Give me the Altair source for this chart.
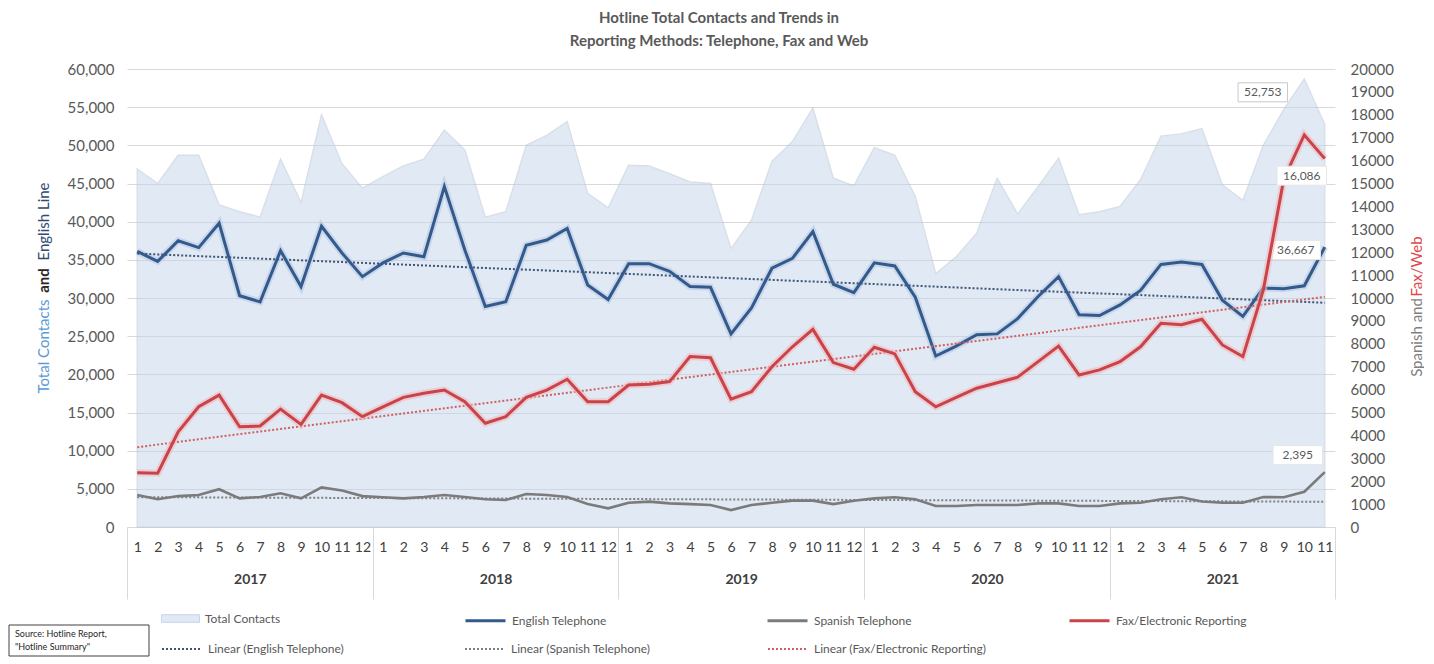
import altair as alt
import pandas as pd

# ---------------- data ----------------
years = [2017] * 12 + [2018] * 12 + [2019] * 12 + [2020] * 12 + [2021] * 11
months = list(range(1, 13)) * 4 + list(range(1, 12))

total_contacts = [
    46900, 45000, 48700, 48700, 42200, 41300, 40600, 48200, 42500, 54000, 47600, 44400,
    45900, 47300, 48200, 52000, 49400, 40600, 41300, 50000, 51300, 53100, 43700, 41800,
    47400, 47300, 46300, 45200, 45000, 36500, 40200, 47900, 50500, 54900, 45700, 44700,
    49700, 48700, 43300, 33200, 35400, 38500, 45700, 41000, 44600, 48300, 40900, 41300,
    42000, 45500, 51200, 51500, 52200, 44800, 42800, 50000, 54700, 58700, 52753,
]
english_tel = [
    36100, 34800, 37500, 36600, 39800, 30300, 29500, 36200, 31500, 39400, 35900, 32800,
    34600, 35900, 35400, 44600, 36300, 28900, 29500, 36900, 37600, 39100, 31700, 29800,
    34500, 34500, 33500, 31500, 31400, 25300, 28700, 33900, 35200, 38700, 31800, 30700,
    34600, 34200, 30100, 22400, 23700, 25200, 25300, 27300, 30200, 32800, 27800, 27700,
    29100, 31000, 34400, 34700, 34400, 29700, 27600, 31300, 31200, 31600, 36667,
]
spanish_tel = [
    1400, 1210, 1350, 1400, 1650, 1250, 1310, 1470, 1250, 1730, 1590, 1350,
    1300, 1250, 1310, 1400, 1310, 1210, 1180, 1440, 1400, 1310, 1000, 815,
    1060, 1110, 1030, 1000, 960, 740, 960, 1060, 1150, 1150, 1000, 1150,
    1250, 1300, 1210, 920, 920, 960, 960, 960, 1030, 1030, 920, 920,
    1030, 1060, 1210, 1300, 1110, 1060, 1060, 1310, 1300, 1540, 2395,
]
fax_web = [
    2370, 2350, 4160, 5250, 5760, 4380, 4410, 5150, 4480, 5760, 5430, 4820,
    5250, 5660, 5840, 5980, 5470, 4530, 4820, 5660, 5980, 6450, 5470, 5470,
    6200, 6230, 6350, 7440, 7390, 5580, 5910, 7000, 7870, 8630, 7180, 6890,
    7850, 7560, 5910, 5250, 5660, 6060, 6300, 6540, 7220, 7900, 6640, 6860,
    7220, 7870, 8900, 8830, 9070, 7950, 7440, 10350, 15200, 17120, 16086,
]

series_names = ["English Telephone", "Spanish Telephone", "Fax/Electronic Reporting"]
trend_names = ["Linear (English Telephone)", "Linear (Spanish Telephone)",
               "Linear (Fax/Electronic Reporting)"]
area_name = "Total Contacts"
title_lines = ["Hotline Total Contacts and Trends in",
               "Reporting Methods: Telephone, Fax and Web"]
source_lines = ["Source: Hotline Report,", "\"Hotline Summary\""]
left_ticks = list(range(0, 60001, 5000))
right_ticks = list(range(0, 20001, 1000))

# ---------------- derived tables ----------------
n = len(total_contacts)
idx = list(range(n))
year_names = sorted(set(years))
year_centers = [sum(i for i in idx if years[i] == y) / years.count(y) for y in year_names]
boundaries = [-0.5] + [max(i for i in idx if years[i] == y) + 0.5 for y in year_names]

df = pd.DataFrame({
    "i": idx, "year": years, "month": months,
    "total": total_contacts, "english": english_tel,
    "spanish": spanish_tel, "fax": fax_web,
})
year_df = pd.DataFrame({"c": year_centers, "year": [str(y) for y in year_names]})
sep_df = pd.DataFrame({"b": boundaries})
src_df = pd.DataFrame({"line": source_lines, "k": list(range(len(source_lines)))})

# ---------------- style ----------------
FONT = "Lato"
W, H = 1208, 458
C_ENG, C_SPA, C_FAX = "#34598b", "#7b7b7b", "#c8434a"
C_TENG, C_TSPA, C_TFAX = "#3e5675", "#808080", "#d0605f"
C_AREA, C_AREA_LINE = "#c4d4ea", "#b3c1d3"
TXT = "#595959"

xs = alt.Scale(domain=[-0.5, n - 0.5], nice=False, zero=False)
ys_left = alt.Scale(domain=[0, 60000], nice=False)
ys_right = alt.Scale(domain=[0, 20000], nice=False)

month_axis = alt.Axis(
    orient="bottom", values=idx, labelExpr=f"{months}[datum.value]",
    labelOverlap=False, labelFlush=False, ticks=False, grid=False,
    domain=True, domainColor="#d9d9d9", labelPadding=13, labelFontSize=14,
    labelFont=FONT, labelColor="#404040", title=None,
)
year_axis = alt.Axis(
    orient="bottom", values=year_centers,
    labelExpr=f"{[str(y) for y in year_names]}[indexof({year_centers}, datum.value)]",
    labelOverlap=False, ticks=False, grid=False, domain=False, labelPadding=45,
    labelFontSize=14, labelFont=FONT, labelColor="#404040", labelFontWeight="bold",
    title=None,
)
sep_axis = alt.Axis(
    orient="bottom", values=boundaries, labels=False, ticks=True, tickSize=72,
    tickColor="#d9d9d9", tickWidth=1, grid=False, domain=False, title=None,
)


def title_piece(text, color, weight, orient, tx, ty):
    return alt.Axis(
        orient=orient, title=text, titleColor=color, titleFontWeight=weight,
        titleFont=FONT, titleFontSize=15, titleAngle=270, titleX=tx, titleY=ty,
        titleAlign="center", titleBaseline="middle", labels=False, ticks=False,
        domain=False, grid=False,
    )


left_axis = alt.Axis(
    orient="left", values=left_ticks, labelExpr="format(datum.value, ',')",
    grid=True, gridColor="#d9d9d9",
    domain=False, ticks=False, labelPadding=13, labelFontSize=15, labelFont=FONT,
    labelColor=TXT, title=area_name, titleColor="#5b9bd5", titleFontWeight="normal",
    titleFont=FONT, titleFontSize=15, titleAngle=270, titleX=-84, titleY=277,
    titleAlign="center", titleBaseline="middle",
)
right_axis = alt.Axis(
    orient="right", values=right_ticks, labelExpr="format(datum.value, 'd')",
    grid=False, domain=False,
    ticks=False, labelPadding=15, labelFontSize=15, labelFont=FONT, labelColor=TXT,
    title="Spanish and", titleColor="#7f7f7f", titleFontWeight="normal", titleFont=FONT,
    titleFontSize=15, titleAngle=270, titleX=81, titleY=268, titleAlign="center",
    titleBaseline="middle",
)

legend_common = dict(
    orient="none", title=None, labelFont=FONT, labelFontSize=12, labelColor=TXT,
    padding=0, labelOffset=5, labelLimit=400,
)
fill_legend = alt.Legend(
    legendX=34, legendY=530, symbolType="M-1,-0.2L1,-0.2L1,0.2L-1,0.2Z", symbolSize=1444,
    symbolStrokeColor="#8faadc", symbolStrokeWidth=1, **legend_common,
)
color_legend = alt.Legend(
    legendX=337, legendY=530, direction="horizontal", columns=3, gridAlign="all",
    columnPadding=118, symbolType="stroke", symbolSize=1600, symbolStrokeWidth=3,
    **legend_common,
)
stroke_legend = alt.Legend(
    legendX=34, legendY=559, direction="horizontal", columns=3, gridAlign="all",
    columnPadding=80, symbolType="stroke", symbolSize=1600, symbolStrokeWidth=2,
    symbolDash=[2, 2], **legend_common,
)

fill_enc = alt.Fill("s:N", scale=alt.Scale(domain=[area_name], range=[C_AREA]),
                    legend=fill_legend)
color_scale = alt.Scale(domain=series_names, range=[C_ENG, C_SPA, C_FAX])
stroke_scale = alt.Scale(domain=trend_names, range=[C_TENG, C_TSPA, C_TFAX])

base = alt.Chart(df)
x_main = alt.X("i:Q", scale=xs, axis=month_axis)
x_none = alt.X("i:Q", scale=xs, axis=None)


def yl(field):
    return alt.Y(f"{field}:Q", scale=ys_left, axis=left_axis)


def yr(field):
    return alt.Y(f"{field}:Q", scale=ys_right, axis=right_axis)


# ---------------- left group (Total Contacts + English) ----------------
area = base.transform_calculate(s=f"'{area_name}'").mark_area(
    opacity=0.5, stroke=C_AREA_LINE, strokeWidth=1.4, strokeOpacity=1,
).encode(x=x_main, y=yl("total"), fill=fill_enc)

eng_glow = base.mark_line(color="#b9cce6", strokeWidth=7, opacity=0.6).encode(
    x=x_main, y=yl("english"))
eng_line = base.transform_calculate(s=f"'{series_names[0]}'").mark_line(
    strokeWidth=3).encode(
    x=x_main, y=yl("english"),
    color=alt.Color("s:N", scale=color_scale, legend=color_legend))
eng_trend = base.transform_regression("i", "english").transform_calculate(
    s=f"'{trend_names[0]}'").mark_line(strokeWidth=2, strokeDash=[2, 2]).encode(
    x=x_main, y=yl("english"),
    stroke=alt.Stroke("s:N", scale=stroke_scale, legend=stroke_legend))

last = f"datum.i == {n - 1}"
BOX = "M-1.3,-0.5L1.3,-0.5L1.3,0.5L-1.3,0.5Z"


def label(field, yfn, dx, dy, border):
    xe = x_main if yfn is yl else x_none
    box = base.transform_filter(last).mark_point(
        shape=BOX, size=1444, filled=True, fill="white", stroke=border,
        strokeWidth=1, opacity=1, xOffset=dx, yOffset=dy,
    ).encode(x=xe, y=yfn(field))
    txt = base.transform_filter(last).mark_text(
        dx=dx, dy=dy, font=FONT, fontSize=12, color=TXT,
    ).encode(x=xe, y=yfn(field), text=alt.Text(f"{field}:Q", format=","))
    return [box, txt]


left_group = alt.layer(
    area, eng_glow, eng_trend, eng_line,
    *label("total", yl, -62, -32, "#c8c8c8"),
    *label("english", yl, -29, 3, "#e6e6e6"),
)

# ---------------- right group (Spanish + Fax) ----------------
fax_glow = base.mark_line(color="#f1b9ba", strokeWidth=7, opacity=0.6).encode(
    x=x_none, y=yr("fax"))
spa_line = base.transform_calculate(s=f"'{series_names[1]}'").mark_line(
    strokeWidth=2.6).encode(
    x=x_none, y=yr("spanish"),
    color=alt.Color("s:N", scale=color_scale, legend=color_legend))
fax_line = base.transform_calculate(s=f"'{series_names[2]}'").mark_line(
    strokeWidth=3).encode(
    x=x_none, y=yr("fax"),
    color=alt.Color("s:N", scale=color_scale, legend=color_legend))
spa_trend = base.transform_regression("i", "spanish").transform_calculate(
    s=f"'{trend_names[1]}'").mark_line(strokeWidth=2, strokeDash=[2, 2]).encode(
    x=x_none, y=yr("spanish"),
    stroke=alt.Stroke("s:N", scale=stroke_scale, legend=stroke_legend))
fax_trend = base.transform_regression("i", "fax").transform_calculate(
    s=f"'{trend_names[2]}'").mark_line(strokeWidth=2, strokeDash=[2, 2]).encode(
    x=x_none, y=yr("fax"),
    stroke=alt.Stroke("s:N", scale=stroke_scale, legend=stroke_legend))

right_group = alt.layer(
    spa_trend, fax_trend, spa_line, fax_glow, fax_line,
    *label("fax", yr, -23, 17, "#e6e6e6"),
    *label("spanish", yr, -27, -17, "#e6e6e6"),
)

# ---------------- extra axes (year row, separators, coloured title pieces) ---
year_layer = alt.Chart(year_df).mark_point(opacity=0, size=1).encode(
    x=alt.X("c:Q", scale=xs, axis=year_axis))
sep_layer = alt.Chart(sep_df).mark_point(opacity=0, size=1).encode(
    x=alt.X("b:Q", scale=xs, axis=sep_axis))
and_layer = base.mark_point(opacity=0, size=1).encode(
    y=alt.Y("total:Q", scale=ys_left,
            axis=title_piece("and", "#262626", "bold", "left", -84, 211)))
engt_layer = base.mark_point(opacity=0, size=1).encode(
    y=alt.Y("english:Q", scale=ys_left,
            axis=title_piece("English Line", "#2f4a73", "normal", "left", -84, 152)))
faxt_layer = base.mark_point(opacity=0, size=1).encode(
    y=alt.Y("fax:Q", scale=ys_right,
            axis=title_piece("Fax/Web", "#e0474c", "normal", "right", 81, 197)))

# ---------------- source note ----------------
src_box = alt.Chart(src_df).transform_filter("datum.k == 0").mark_rect(
    fill="white", stroke="#404040", strokeWidth=1).encode(
    x=alt.value(-118), x2=alt.value(22), y=alt.value(556), y2=alt.value(587))
src_text = alt.Chart(src_df).mark_text(
    align="left", baseline="middle", font=FONT, fontSize=9, color="#262626").encode(
    x=alt.value(-112),
    y=alt.Y("k:O", axis=None, scale=alt.Scale(range=[565, 578], padding=0), title=None),
    text="line:N")

chart = alt.layer(
    left_group, right_group, year_layer, sep_layer, and_layer, engt_layer,
    faxt_layer, src_box, src_text,
).resolve_scale(y="independent").resolve_axis(x="independent", y="independent").properties(
    width=W, height=H,
    padding={"left": 0, "top": 3, "right": 0, "bottom": 0},
    title=alt.TitleParams(
        title_lines, font=FONT, fontSize=15, fontWeight="bold", color=TXT,
        anchor="middle", lineHeight=23, offset=13, dx=-12,
    ),
).configure_view(stroke=None)

chart.save("out.html", embed_options={"renderer": "svg", "actions": False})
